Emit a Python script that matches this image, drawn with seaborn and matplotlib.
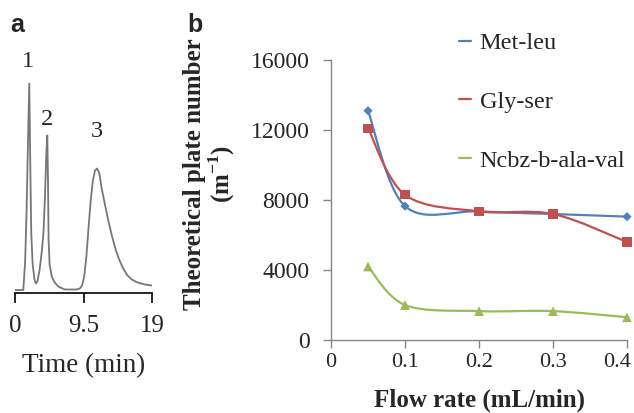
import numpy as np
import pandas as pd
import matplotlib
matplotlib.use('Agg')
import matplotlib.pyplot as plt
import matplotlib.transforms as mtransforms
import seaborn as sns
from matplotlib.path import Path
from matplotlib.patches import PathPatch
from matplotlib.lines import Line2D

# panel b data
flow = [0.05, 0.1, 0.2, 0.3, 0.4]
met_leu = [13100, 7650, 7350, 7200, 7050]
gly_ser = [12100, 8300, 7350, 7200, 5600]
ncbz = [4200, 2000, 1650, 1650, 1300]
series_names = ['Met-leu', 'Gly-ser', 'Ncbz-b-ala-val']
series_colors = ['#4F81BD', '#C0504D', '#9BBB59']
flow_ticks = [0, 0.1, 0.2, 0.3, 0.4]
flow_ticklabels = ['0', '0.1', '0.2', '0.3', '0.4']
plate_ticks = [0, 4000, 8000, 12000, 16000]

# panel a chromatogram (arbitrary signal units)
time = [0.0, 1.15, 1.4, 1.6, 1.8, 1.98, 2.1, 2.25, 2.45, 2.7, 2.9, 3.1,
        3.4, 3.7, 3.95, 4.15, 4.35, 4.48, 4.58, 4.66, 4.8, 5.1, 5.5, 6.0,
        6.9, 8.5, 9.0, 9.3, 9.6, 9.9, 10.2, 10.5, 10.8, 11.1, 11.4, 11.7,
        12.0, 12.5, 13.0, 13.5, 14.0, 14.5, 15.0, 15.6, 16.2, 17.0, 18.0, 19.0]
signal = [2.5, 2.5, 30, 80, 150, 209, 140, 60, 28, 13, 9, 11,
          22, 40, 60, 95, 140, 157, 110, 52, 28, 16, 10, 6,
          3, 3, 4, 7, 16, 36, 65, 92, 112, 122, 124, 119,
          105, 87, 70, 55, 42, 32, 24, 17, 13, 10, 8, 7]
peak_labels = ['1', '2', '3']
peak_label_t = [1.85, 4.48, 11.33]
peak_label_s = [231, 173, 161]
time_ticks = [0, 9.5, 19]
time_ticklabels = ['0', '9.5', '19']

sns.set_style('white')
plt.rcParams['font.family'] = ['Liberation Serif', 'DejaVu Serif']
plt.rcParams['mathtext.fontset'] = 'custom'
plt.rcParams['mathtext.rm'] = 'Liberation Serif'
plt.rcParams['mathtext.bf'] = 'Liberation Serif:bold'


def smooth_path(xs, ys):
    # Excel-like smoothed line: cubic bezier through the points
    pts = np.column_stack([xs, ys]).astype(float)
    p = np.vstack([pts[0], pts, pts[-1]])
    verts = [tuple(pts[0])]
    codes = [Path.MOVETO]
    for i in range(1, len(p) - 2):
        c1 = p[i] + (p[i + 1] - p[i - 1]) / 6
        c2 = p[i + 1] - (p[i + 2] - p[i]) / 6
        verts += [tuple(c1), tuple(c2), tuple(p[i + 1])]
        codes += [Path.CURVE4] * 3
    return Path(verts, codes)


W, H = 634, 413
fig = plt.figure(figsize=(W / 100, H / 100), dpi=100)

# ---- panel a ----
ax_a = fig.add_axes([15 / W, 1 - 292.5 / H, 137 / W, 222.5 / H])
chrom = pd.DataFrame({'time': time, 'signal': signal})
sns.lineplot(data=chrom, x='time', y='signal', color='#777777', lw=1.3,
             estimator=None, ax=ax_a)
ax_a.set_xlim(0, 19)
ax_a.set_ylim(0, 222.5)
for lab, t, s in zip(peak_labels, peak_label_t, peak_label_s):
    ax_a.text(t, s, lab, ha='center', va='center', fontsize=17.5)
for side in ['left', 'top', 'right']:
    ax_a.spines[side].set_visible(False)
ax_a.spines['bottom'].set_color('black')
ax_a.spines['bottom'].set_linewidth(1.2)
ax_a.set_yticks([])
ax_a.set_xticks(time_ticks)
ax_a.set_xticklabels(time_ticklabels)
ax_a.tick_params(axis='x', direction='out', length=7, width=1.2,
                 color='black', labelsize=18, pad=9.5, bottom=True)
ax_a.set_xlabel('Time (min)', fontsize=19.5, labelpad=11)
ax_a.set_ylabel('')

# ---- panel b ----
ax_b = fig.add_axes([331 / W, 1 - 340 / H, 296 / W, 280 / H])
long = pd.DataFrame({
    'flow': flow * 3,
    'N': met_leu + gly_ser + ncbz,
    'peptide': [n for n in series_names for _ in flow],
})
for name, vals, col in zip(series_names, [met_leu, gly_ser, ncbz], series_colors):
    ax_b.add_patch(PathPatch(smooth_path(flow, vals), fill=False,
                             edgecolor=col, lw=1.6, clip_on=False))
sns.scatterplot(data=long, x='flow', y='N', hue='peptide', style='peptide',
                palette=series_colors, markers=['D', 's', '^'],
                size='peptide', sizes=[22, 45, 50], linewidth=0,
                legend=False, clip_on=False, ax=ax_b, zorder=3)
ax_b.set_xlim(0, 0.4)
ax_b.set_ylim(0, 16000)
ax_b.set_xticks(flow_ticks)
ax_b.set_xticklabels(flow_ticklabels)
ax_b.set_yticks(plate_ticks)
ax_b.set_yticklabels([str(v) for v in plate_ticks])
for side in ['top', 'right']:
    ax_b.spines[side].set_visible(False)
for side in ['left', 'bottom']:
    ax_b.spines[side].set_color('#868686')
    ax_b.spines[side].set_linewidth(1.0)
ax_b.tick_params(axis='both', direction='out', length=5.5, width=1.0,
                 color='#868686', left=True, bottom=True)
ax_b.tick_params(axis='y', pad=10, labelsize=17)
ax_b.tick_params(axis='x', pad=4, labelsize=16)
# last x label is pulled inward so it stays on the canvas
last = ax_b.get_xticklabels()[-1]
last.set_transform(last.get_transform() +
                   mtransforms.ScaledTranslation(-10 / 100, 0, fig.dpi_scale_trans))
ax_b.set_xlabel('Flow rate (mL/min)', fontsize=18, fontweight='bold', labelpad=12)
ax_b.set_ylabel('')
fig.text(210 / W, 1 - 174 / H, 'Theoretical plate number\n(m$^{\\mathbf{-1}}$)',
         rotation=90, ha='center', va='center', fontsize=18, fontweight='bold',
         multialignment='center', linespacing=1.0)

handles = [Line2D([0], [0], color=c, lw=1.6) for c in series_colors]
fig.legend(handles, series_names, loc='upper left',
           bbox_to_anchor=(459 / W, 1 - 32 / H), frameon=False,
           fontsize=17.5, handlelength=0.5, handletextpad=0.35,
           labelspacing=1.52, borderpad=0, borderaxespad=0)

# panel letters
fig.text(10 / W, 1 - 32 / H, 'a', fontsize=18, fontweight='bold',
         family=['Liberation Sans', 'DejaVu Sans'], va='baseline')
fig.text(187 / W, 1 - 32 / H, 'b', fontsize=18, fontweight='bold',
         family=['Liberation Sans', 'DejaVu Sans'], va='baseline')

fig.savefig('out.png', dpi=100)
